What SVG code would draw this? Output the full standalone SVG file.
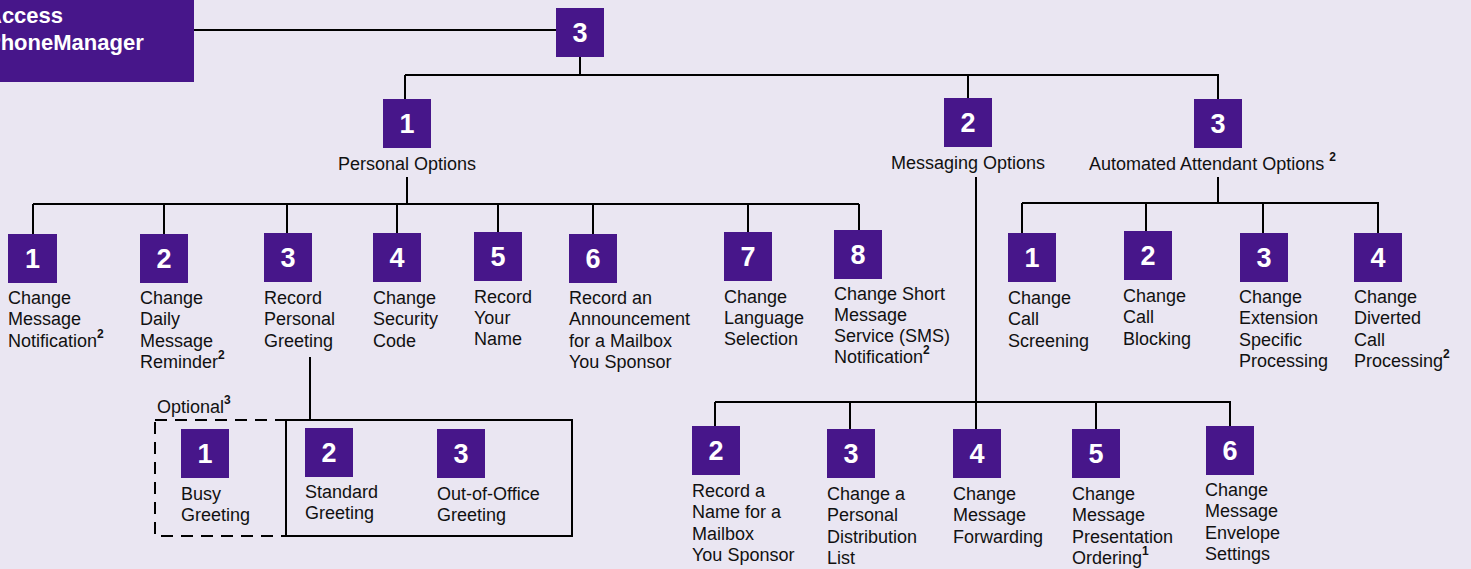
<svg xmlns="http://www.w3.org/2000/svg" width="1471" height="569" viewBox="0 0 1471 569">
<style>
.bx{fill:#47168a}
.n{font-family:"Liberation Sans",Arial,sans-serif;font-weight:bold;font-size:27px;fill:#fff;text-anchor:middle}
.t{font-family:"Liberation Sans",Arial,sans-serif;font-size:18px;fill:#111}
.s{font-family:"Liberation Sans",Arial,sans-serif;font-size:12px;font-weight:bold;fill:#111}
.h{font-family:"Liberation Sans",Arial,sans-serif;font-weight:bold;font-size:22px;fill:#fff}
.ln{fill:none;stroke:#000;stroke-width:2}
</style>
<rect width="1471" height="569" fill="#eae6f2"/>
<g id="connectors" class="ln">
<path d="M194 30H556"/>
<path d="M580 57V75M405 75H1219M405 75V99M968 75V98M1218 75V99"/>
<path d="M407 177V204M33 204H859M33 204V234M164 204V234M287 204V233M397 204V233M498 204V232M593 204V234M748 204V232M859 204V230"/>
<path d="M976 177V402M715 402H1231M715 402V426M850 402V429M976 402V429M1096 402V429M1230 402V426"/>
<path d="M1218 177V203M1022 203H1379M1022 203V233M1146 203V231M1263 203V233M1378 203V233"/>
<path d="M310 357V420"/>
<rect x="286" y="420" width="286" height="116"/>
<rect x="155" y="420" width="131" height="116" stroke-dasharray="12 8"/>
</g>
<g id="header">
<rect class="bx" x="-5" y="-5" width="199" height="87"/>
<text class="h" x="-14" y="23">Access</text>
<text class="h" x="-14" y="50">PhoneManager</text>
</g>
<g id="root"><rect class="bx" x="556" y="8" width="48" height="49"/><text class="n" x="580" y="42">3</text></g>
<g id="personal"><rect class="bx" x="383" y="99" width="48" height="49"/><text class="n" x="407" y="133">1</text><text class="t" x="407" y="170" text-anchor="middle">Personal Options</text></g>
<g id="messaging"><rect class="bx" x="944" y="98" width="48" height="49"/><text class="n" x="968" y="132">2</text><text class="t" x="968" y="169" text-anchor="middle">Messaging Options</text></g>
<g id="automated"><rect class="bx" x="1194" y="99" width="48" height="49"/><text class="n" x="1218" y="133">3</text><text class="t" x="1089" y="170">Automated Attendant Options <tspan class="s" dy="-9">2</tspan></text></g>

<g id="p1"><rect class="bx" x="8" y="234" width="49" height="49"/><text class="n" x="32.5" y="268">1</text><text class="t" x="8" y="304">Change<tspan x="8" dy="21.3">Message</tspan><tspan x="8" dy="21.3">Notification</tspan><tspan class="s" dy="-9">2</tspan></text></g>
<g id="p2"><rect class="bx" x="140" y="234" width="48" height="49"/><text class="n" x="164" y="268">2</text><text class="t" x="140" y="304">Change<tspan x="140" dy="21.3">Daily</tspan><tspan x="140" dy="21.3">Message</tspan><tspan x="140" dy="21.3">Reminder</tspan><tspan class="s" dy="-9">2</tspan></text></g>
<g id="p3"><rect class="bx" x="264" y="233" width="48" height="49"/><text class="n" x="288" y="267">3</text><text class="t" x="264" y="304">Record<tspan x="264" dy="21.3">Personal</tspan><tspan x="264" dy="21.3">Greeting</tspan></text></g>
<g id="p4"><rect class="bx" x="373" y="233" width="48" height="49"/><text class="n" x="397" y="267">4</text><text class="t" x="373" y="304">Change<tspan x="373" dy="21.3">Security</tspan><tspan x="373" dy="21.3">Code</tspan></text></g>
<g id="p5"><rect class="bx" x="474" y="232" width="48" height="49"/><text class="n" x="498" y="266">5</text><text class="t" x="474" y="303">Record<tspan x="474" dy="21">Your</tspan><tspan x="474" dy="21">Name</tspan></text></g>
<g id="p6"><rect class="bx" x="569" y="234" width="48" height="49"/><text class="n" x="593" y="268">6</text><text class="t" x="569" y="304">Record an<tspan x="569" dy="21.3">Announcement</tspan><tspan x="569" dy="21.3">for a Mailbox</tspan><tspan x="569" dy="21.3">You Sponsor</tspan></text></g>
<g id="p7"><rect class="bx" x="724" y="232" width="48" height="49"/><text class="n" x="748" y="266">7</text><text class="t" x="724" y="303">Change<tspan x="724" dy="21">Language</tspan><tspan x="724" dy="21">Selection</tspan></text></g>
<g id="p8"><rect class="bx" x="834" y="230" width="48" height="49"/><text class="n" x="858" y="264">8</text><text class="t" x="834" y="300">Change Short<tspan x="834" dy="21">Message</tspan><tspan x="834" dy="21">Service (SMS)</tspan><tspan x="834" dy="21">Notification</tspan><tspan class="s" dy="-9">2</tspan></text></g>

<text class="t" x="157" y="413">Optional<tspan class="s" dy="-9">3</tspan></text>
<g id="g1"><rect class="bx" x="181" y="429" width="48" height="49"/><text class="n" x="205" y="463">1</text><text class="t" x="181" y="500">Busy<tspan x="181" dy="21">Greeting</tspan></text></g>
<g id="g2"><rect class="bx" x="305" y="428" width="48" height="49"/><text class="n" x="329" y="462">2</text><text class="t" x="305" y="498">Standard<tspan x="305" dy="21">Greeting</tspan></text></g>
<g id="g3"><rect class="bx" x="437" y="429" width="48" height="49"/><text class="n" x="461" y="463">3</text><text class="t" x="437" y="500">Out-of-Office<tspan x="437" dy="21">Greeting</tspan></text></g>

<g id="m2"><rect class="bx" x="692" y="426" width="48" height="49"/><text class="n" x="716" y="460">2</text><text class="t" x="692" y="497">Record a<tspan x="692" dy="21.3">Name for a</tspan><tspan x="692" dy="21.3">Mailbox</tspan><tspan x="692" dy="21.3">You Sponsor</tspan></text></g>
<g id="m3"><rect class="bx" x="827" y="429" width="48" height="49"/><text class="n" x="851" y="463">3</text><text class="t" x="827" y="500">Change a<tspan x="827" dy="21.3">Personal</tspan><tspan x="827" dy="21.3">Distribution</tspan><tspan x="827" dy="21.3">List</tspan></text></g>
<g id="m4"><rect class="bx" x="953" y="429" width="48" height="49"/><text class="n" x="977" y="463">4</text><text class="t" x="953" y="500">Change<tspan x="953" dy="21.3">Message</tspan><tspan x="953" dy="21.3">Forwarding</tspan></text></g>
<g id="m5"><rect class="bx" x="1072" y="429" width="48" height="49"/><text class="n" x="1096" y="463">5</text><text class="t" x="1072" y="500">Change<tspan x="1072" dy="21.3">Message</tspan><tspan x="1072" dy="21.3">Presentation</tspan><tspan x="1072" dy="21.3">Ordering</tspan><tspan class="s" font-weight="normal" dy="-9">1</tspan></text></g>
<g id="m6"><rect class="bx" x="1206" y="426" width="48" height="49"/><text class="n" x="1230" y="460">6</text><text class="t" x="1205" y="496">Change<tspan x="1205" dy="21.3">Message</tspan><tspan x="1205" dy="21.3">Envelope</tspan><tspan x="1205" dy="21.3">Settings</tspan></text></g>

<g id="a1"><rect class="bx" x="1008" y="233" width="48" height="49"/><text class="n" x="1032" y="267">1</text><text class="t" x="1008" y="304">Change<tspan x="1008" dy="21.3">Call</tspan><tspan x="1008" dy="21.3">Screening</tspan></text></g>
<g id="a2"><rect class="bx" x="1124" y="231" width="48" height="49"/><text class="n" x="1148" y="265">2</text><text class="t" x="1123" y="302">Change<tspan x="1123" dy="21.3">Call</tspan><tspan x="1123" dy="21.3">Blocking</tspan></text></g>
<g id="a3"><rect class="bx" x="1240" y="233" width="48" height="49"/><text class="n" x="1264" y="267">3</text><text class="t" x="1239" y="303">Change<tspan x="1239" dy="21.3">Extension</tspan><tspan x="1239" dy="21.3">Specific</tspan><tspan x="1239" dy="21.3">Processing</tspan></text></g>
<g id="a4"><rect class="bx" x="1354" y="233" width="48" height="49"/><text class="n" x="1378" y="267">4</text><text class="t" x="1354" y="303">Change<tspan x="1354" dy="21.3">Diverted</tspan><tspan x="1354" dy="21.3">Call</tspan><tspan x="1354" dy="21.3">Processing</tspan><tspan class="s" dy="-9">2</tspan></text></g>
</svg>
